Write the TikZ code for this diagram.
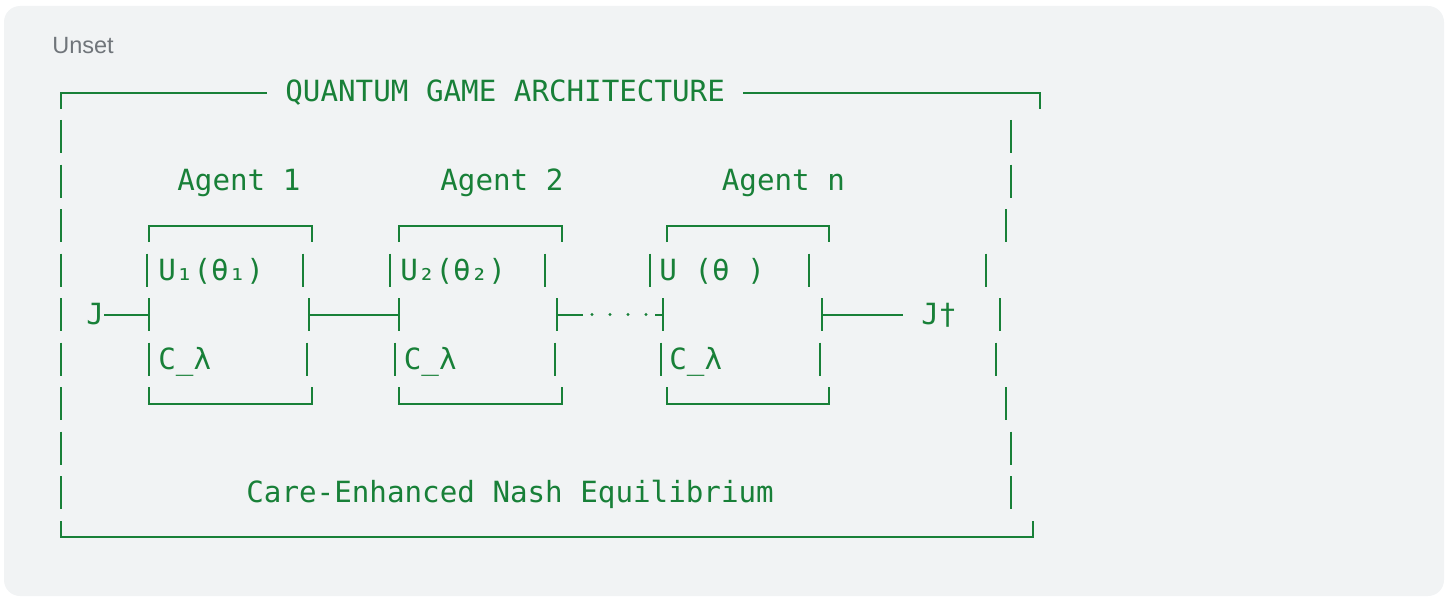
\documentclass[tikz,border=0pt]{standalone}
\usepackage{fontspec}
\setmainfont{Liberation Sans}
\newfontfamily\artfont{DejaVu Sans Mono}
\usetikzlibrary{positioning}
\definecolor{artgreen}{HTML}{188038}
\definecolor{panelgray}{HTML}{F1F3F4}
\definecolor{labelgray}{HTML}{70757A}
\tikzset{
	art/.style={text=artgreen, font=\artfont\fontsize{14.6pt}{17pt}\selectfont, inner sep=0pt, anchor=base west},
	frame/.style={draw=artgreen, line width=1pt},
}
\begin{document}
\begin{tikzpicture}[x=0.5pt, y=-0.5pt]
				\useasboundingbox (0,0) rectangle (1450,599);
				\fill [panelgray, rounded corners=8pt] (4,6) rectangle (1444,596);
				\node [anchor=base west, inner sep=0pt, text=labelgray, font=\fontsize{11.75pt}{14pt}\selectfont] (lang) at (52,54) {Unset};
				\node [art] (title) at (285,102) {QUANTUM GAME ARCHITECTURE};
				\draw [frame] (61,109) -- (61,93) -- (267,93);
				\draw [frame] (743,93) -- (1040,93) -- (1040,109);
				\foreach \r/\xr in {1/1011, 2/1011, 3/1006, 4/986, 5/1000, 6/996, 7/1006, 8/1011, 9/1011}
				{
					\draw [frame] (61,{75.5+44.5*\r}) -- ++(0,33);
					\draw [frame] (\xr,{75.5+44.5*\r}) -- ++(0,33);
				}
				\draw [frame] (61,521) -- (61,537) -- (1033,537) -- (1033,521);
				\node [art] (agent1) at (177,191) {Agent 1};
				\node [art] (agent2) at (440,191) {Agent 2};
				\node [art] (agentn) at (721.5,191) {Agent n};
				\foreach \i/\a/\b/\ul/\ur/\jl/\jr/\cl/\cr in {1/149/311.5/147/302.5/149/308.5/149/307, 2/399/561.5/390/544.5/398.5/557/395/554.5, 3/667/829/650/809/663/822/661/819.5}
				{
					\draw [frame] (\a,242) -- (\a,226) -- (\b,226) -- (\b,242);
					\draw [frame] (\a,387) -- (\a,403.5) -- (\b,403.5) -- (\b,387);
					\draw [frame] (\ul,253.5) -- ++(0,33);
					\draw [frame] (\ur,253.5) -- ++(0,33);
					\draw [frame] (\cl,342.5) -- ++(0,33);
					\draw [frame] (\cr,342.5) -- ++(0,33);
					\coordinate (in\i) at (\jl,314.5);
					\coordinate (out\i) at (\jr,314.5);
					\draw [frame] ([yshift=8.25pt]in\i) -- ([yshift=-8.25pt]in\i);
					\draw [frame] ([yshift=8.25pt]out\i) -- ([yshift=-8.25pt]out\i);
				}
				\node [art] (u1) at (158,280) {U₁(θ₁)};
				\node [art] (u2) at (400,280) {U₂(θ₂)};
				\node [art] (un) at (659,280) {U (θ )};
				\node [art] (c1) at (158,369) {C\_λ};
				\node [art] (c2) at (403.5,369) {C\_λ};
				\node [art] (cn) at (669,369) {C\_λ};
				\node [art] (jin) at (86,324.5) {J};
				\node [art] (jout) at (921,324.5) {J†};
				\draw [frame] (jin.east |- in1) -- (in1);
				\draw [frame] (out1) -- (in2);
				\draw [frame] (out2) -- ++(26,0);
				\foreach \d in {0,1,2,3}
					\fill [artgreen] ({592+18*\d},314.5) circle (0.8pt);
				\draw [frame] (in3) -- ++(-8,0);
				\draw [frame, shorten >=9pt] (out3) -- (out3 -| jout.west);
				\node [art] (nash) at (246,502.5) {Care-Enhanced Nash Equilibrium};
				\end{tikzpicture}
\end{document}
